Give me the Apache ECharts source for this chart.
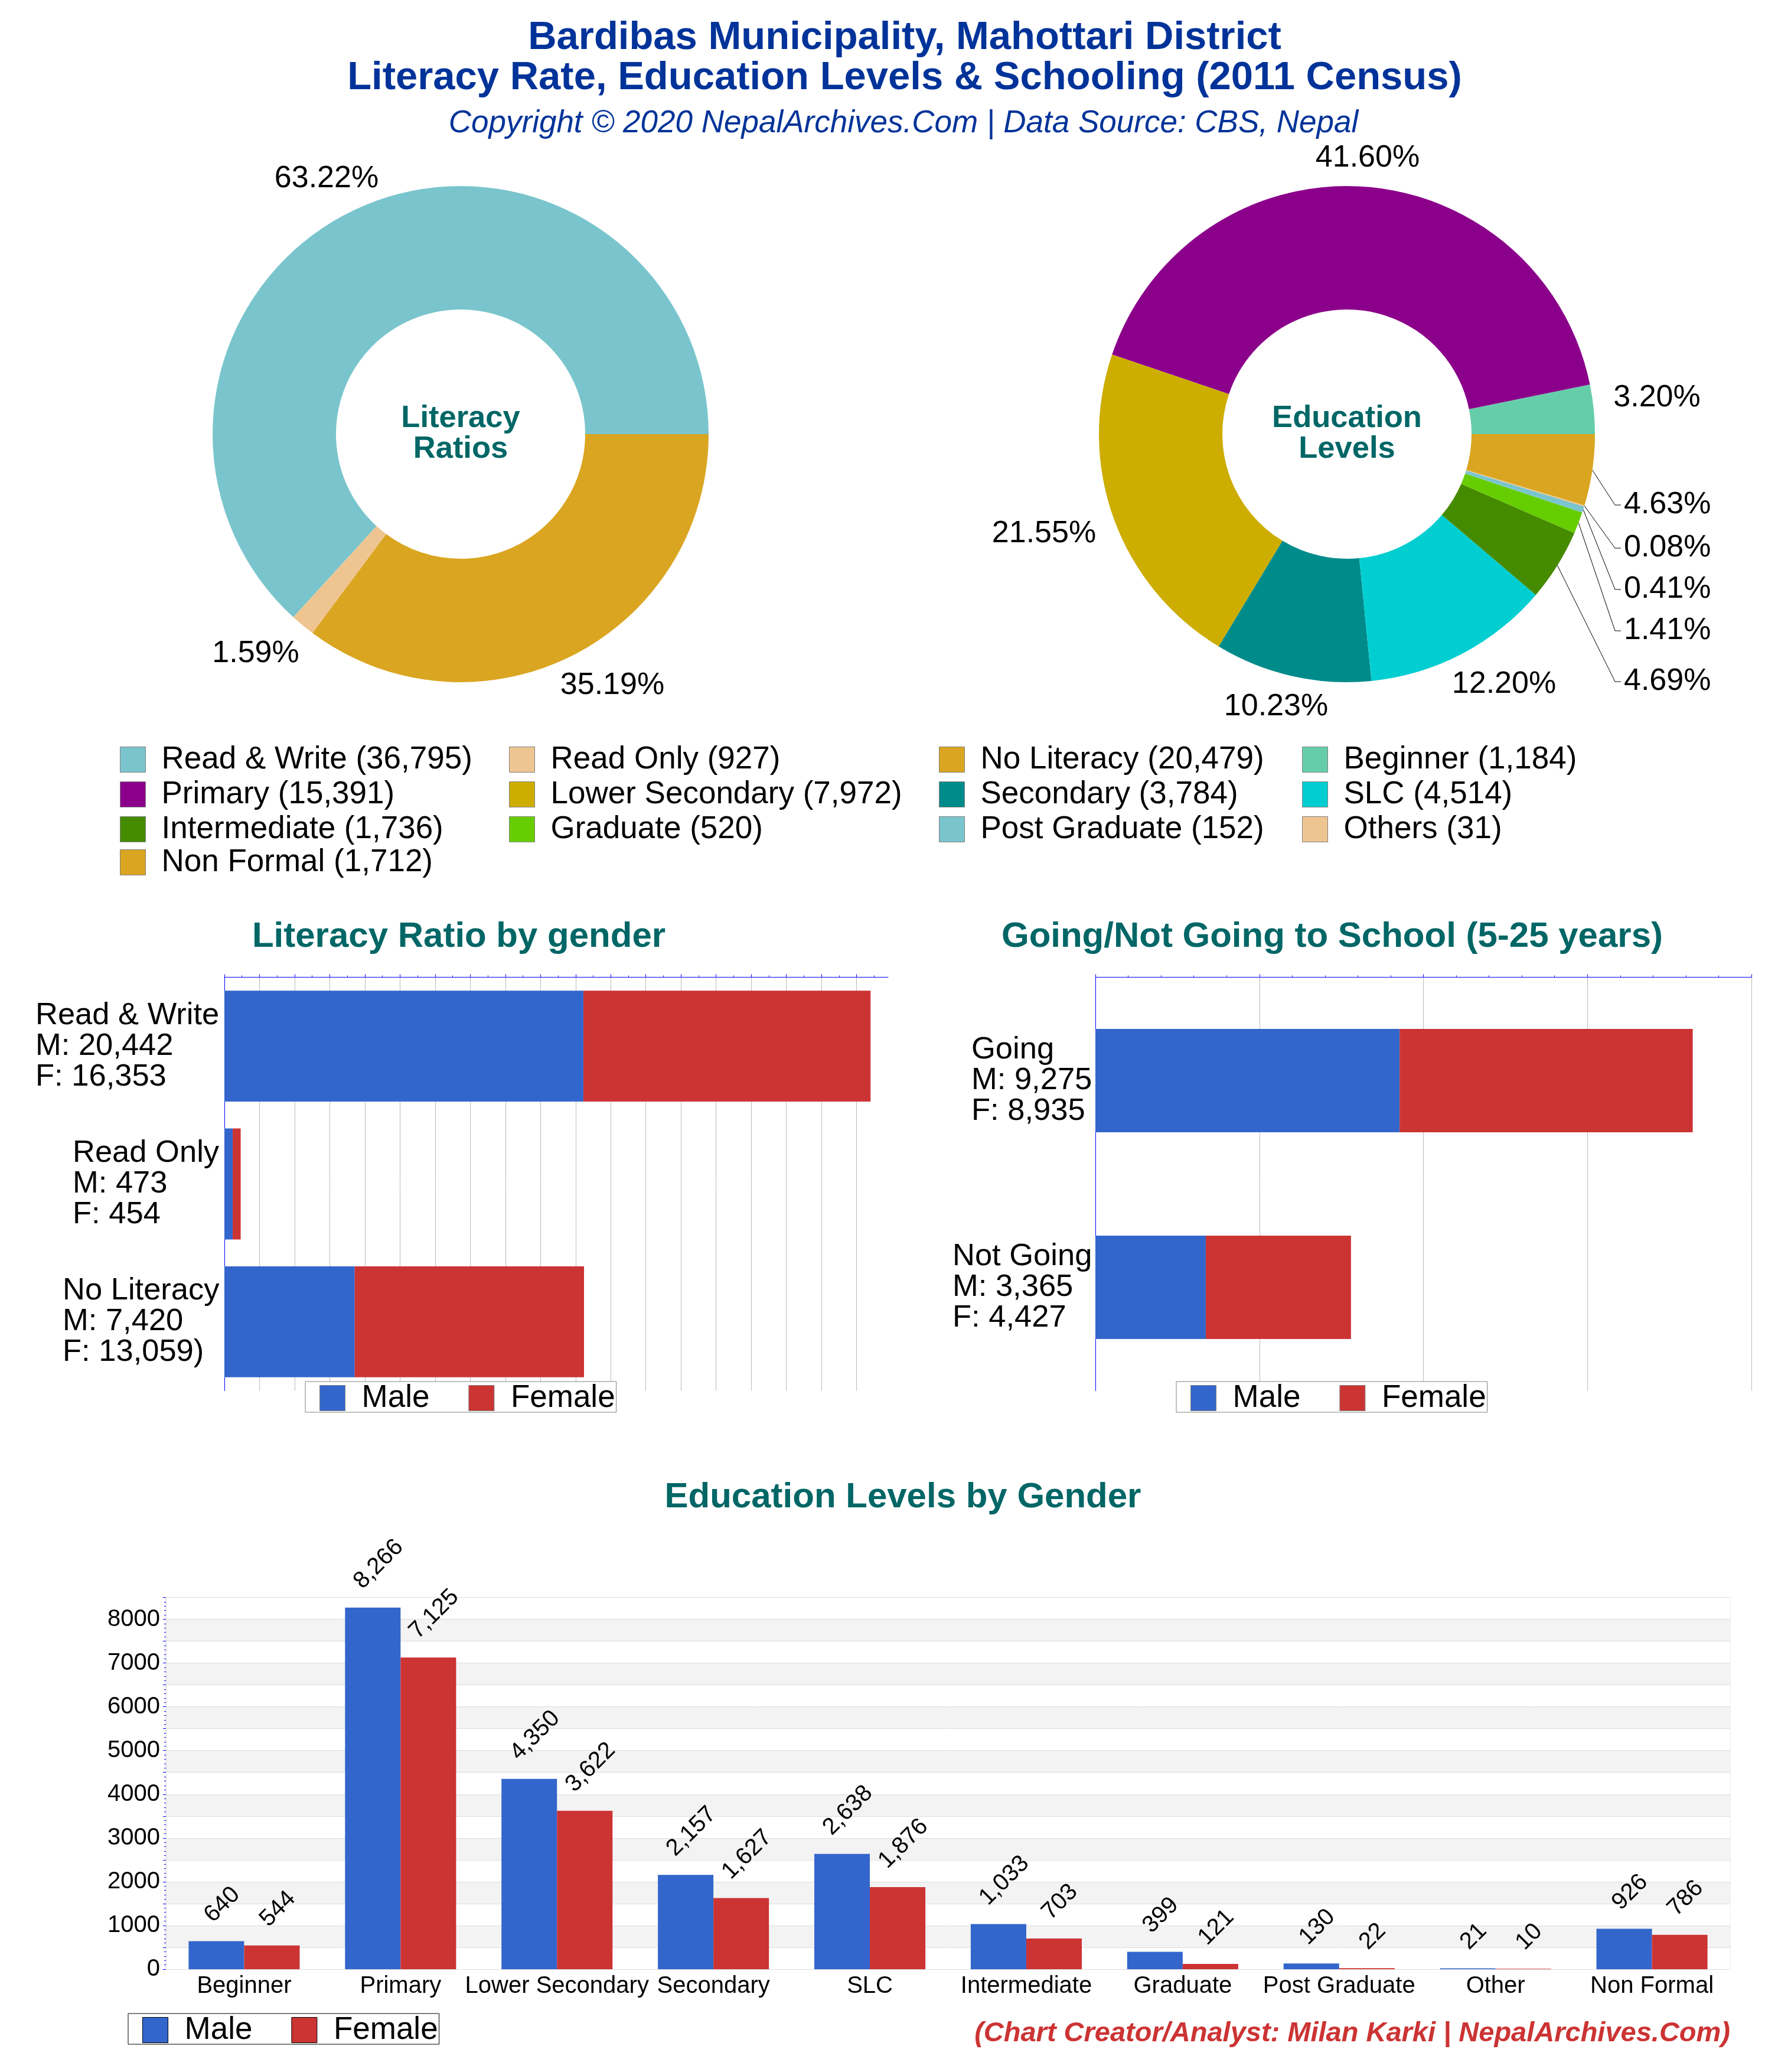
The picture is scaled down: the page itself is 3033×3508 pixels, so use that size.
<!DOCTYPE html>
<html>
<head>
<meta charset="utf-8">
<title>Bardibas Municipality Literacy</title>
<script src="https://cdn.jsdelivr.net/npm/echarts@6/dist/echarts.min.js"></script>
<style>
    html, body { margin: 0; padding: 0; background: #fff; }
    #main { width: 3033px; height: 3508px; }
</style>
</head>
<body>
<div id="main"></div>
<script>
// literacy donut
var literacyNames = ['Read & Write', 'Read Only', 'No Literacy'];
var literacyTotals = [36795, 927, 20479];

// education donut, counter clockwise from 3 o'clock
var educationNames = ['Beginner', 'Primary', 'Lower Secondary', 'Secondary', 'SLC', 'Intermediate', 'Graduate', 'Post Graduate', 'Others', 'Non Formal'];
var educationTotals = [1184, 15391, 7972, 3784, 4514, 1736, 520, 152, 31, 1712];

// literacy by gender
var literacyMale = [20442, 473, 7420];
var literacyFemale = [16353, 454, 13059];
var literacyTickLabels = ['Read & Write\nM: 20,442\nF: 16,353', 'Read Only\nM: 473\nF: 454', 'No Literacy\nM: 7,420\nF: 13,059)'];
var literacyTicks = [0, 2000, 4000, 6000, 8000, 10000, 12000, 14000, 16000, 18000, 20000, 22000, 24000, 26000, 28000, 30000, 32000, 34000, 36000];

// school attendance
var schoolNames = ['Going', 'Not Going'];
var schoolMale = [9275, 3365];
var schoolFemale = [8935, 4427];
var schoolTickLabels = ['Going\nM: 9,275\nF: 8,935', 'Not Going\nM: 3,365\nF: 4,427'];

// education by gender
var levelNames = ['Beginner', 'Primary', 'Lower Secondary', 'Secondary', 'SLC', 'Intermediate', 'Graduate', 'Post Graduate', 'Other', 'Non Formal'];
var levelMale = [640, 8266, 4350, 2157, 2638, 1033, 399, 130, 21, 926];
var levelFemale = [544, 7125, 3622, 1627, 1876, 703, 121, 22, 10, 786];

var FONT = '"Liberation Sans", Arial, sans-serif';
var BLUE = '#3366CC';
var RED = '#CC3333';
var TEAL = '#006666';
var NAVY = '#003399';

var literacyColors = ['#7AC5CD', '#EEC591', '#DAA520'];
var educationColors = ['#66CDAA', '#8B008B', '#CDAD00', '#008B8B', '#00CED1', '#458B00', '#66CD00', '#7AC5CD', '#EEC591', '#DAA520'];

var ctx = document.createElement('canvas').getContext('2d');
function textWidth(text, size) {
    ctx.font = size + 'px ' + FONT;
    return ctx.measureText(text).width;
}
function fmt(v) {
    return v.toLocaleString('en-US');
}
function legendName(name, v) {
    return name + ' (' + fmt(v) + ')';
}

function titleAt(text, x, y, size, color, extra) {
    return {
        text: text,
        left: x,
        top: y,
        padding: 0,
        textAlign: (extra && extra.align) || 'center',
        textVerticalAlign: 'middle',
        textStyle: {
            fontFamily: FONT,
            fontSize: size,
            fontWeight: (extra && extra.weight) || 'bold',
            fontStyle: (extra && extra.style) || 'normal',
            color: color,
            lineHeight: 52
        }
    };
}

function pieLegend(x, y, names) {
    return {
        left: x,
        top: y,
        padding: 0,
        orient: 'vertical',
        align: 'left',
        itemWidth: 43,
        itemHeight: 43,
        itemGap: 6,
        selectedMode: false,
        icon: 'rect',
        itemStyle: { borderColor: '#808080', borderWidth: 1 },
        textStyle: { fontFamily: FONT, fontSize: 53, color: '#000', padding: [0, 0, 0, 22] },
        data: names
    };
}

function barLegend(x, y, borderColor) {
    return {
        left: x,
        top: y,
        padding: [1.5, 2, -2.5, 24],
        itemWidth: 43,
        itemHeight: 43,
        itemGap: 66,
        selectedMode: false,
        icon: 'rect',
        backgroundColor: '#fff',
        borderColor: borderColor,
        borderWidth: 1,
        itemStyle: { borderColor: borderColor, borderWidth: 1 },
        textStyle: { fontFamily: FONT, fontSize: 53, color: '#000', padding: [0, 0, 0, 23] },
        data: ['Male', 'Female']
    };
}

// multi line tick labels: block sits against the axis, lines inside it start on the left
function tickLabelStyle(tickLabels) {
    var rich = {};
    tickLabels.forEach(function (label, i) {
        var w = Math.max.apply(null, label.split('\n').map(function (l) { return textWidth(l, 52.5); }));
        rich['r' + i] = { width: Math.ceil(w), align: 'left', fontFamily: FONT, fontSize: 52.5, lineHeight: 52, color: '#000' };
    });
    return rich;
}
function tickFormatter(names, tickLabels) {
    return function (value) {
        var i = names.indexOf(value);
        return tickLabels[i].split('\n').map(function (l) { return '{r' + i + '|' + l + '}'; }).join('\n');
    };
}

function stackedXAxis(grid, max, interval, minorSplit, extra) {
    return Object.assign({
        type: 'value',
        gridIndex: grid,
        position: 'top',
        min: 0,
        max: max,
        interval: interval,
        axisLine: { show: true, lineStyle: { color: '#0000FF', width: 1 } },
        axisTick: { show: true, length: 5, lineStyle: { color: '#0000FF', width: 1 } },
        minorTick: { show: true, splitNumber: minorSplit, length: 3, lineStyle: { color: '#0000FF', width: 1 } },
        axisLabel: { show: false },
        splitLine: { show: true, lineStyle: { color: '#BBBBBB', width: 1 } }
    }, extra || {});
}

function stackedYAxis(grid, names, tickLabels, margin) {
    return {
        type: 'category',
        gridIndex: grid,
        inverse: true,
        data: names,
        axisLine: { show: true, lineStyle: { color: '#0000FF', width: 1 } },
        axisTick: { show: false },
        axisLabel: {
            margin: margin,
            formatter: tickFormatter(names, tickLabels),
            rich: tickLabelStyle(tickLabels)
        }
    };
}

function stackedSeries(name, color, axis, stack, values, width) {
    return {
        type: 'bar',
        name: name,
        stack: stack,
        xAxisIndex: axis,
        yAxisIndex: axis,
        barWidth: width,
        itemStyle: { color: color },
        data: values
    };
}

// the label offset works in the rotated frame of the text
function rotatedOffset(v) {
    var rise = 38 + 0.354 * textWidth(fmt(v), 40);
    return [(10 + rise) * Math.SQRT1_2, (10 - rise) * Math.SQRT1_2];
}

function levelSeries(name, color, values) {
    return {
        type: 'bar',
        name: name,
        xAxisIndex: 2,
        yAxisIndex: 2,
        barGap: 0,
        barCategoryGap: '29%',
        itemStyle: { color: color },
        label: {
            show: true,
            position: 'top',
            distance: 0,
            rotate: 45,
            align: 'center',
            verticalAlign: 'middle',
            fontFamily: FONT,
            fontSize: 40,
            color: '#000',
            formatter: function (p) { return fmt(p.value); }
        },
        data: values.map(function (v) {
            return { value: v, label: { offset: rotatedOffset(v) } };
        })
    };
}

function pieData(names, totals, colors, withLine) {
    return names.map(function (name, i) {
        return {
            name: legendName(name, totals[i]),
            value: totals[i],
            itemStyle: { color: colors[i] },
            labelLine: { show: withLine.indexOf(name) >= 0 }
        };
    });
}

function pieSeries(cx, data, layout) {
    return {
        type: 'pie',
        center: [cx, 735],
        radius: [211, 420],
        startAngle: 0,
        clockwise: false,
        percentPrecision: 2,
        avoidLabelOverlap: false,
        label: {
            position: 'outside',
            fontFamily: FONT,
            fontSize: 52,
            color: '#000',
            formatter: function (p) { return p.percent.toFixed(2) + '%'; }
        },
        labelLine: { lineStyle: { color: '#000', width: 1 } },
        labelLayout: layout,
        emphasis: { disabled: true },
        data: data
    };
}

// where the percent labels sit around each donut
var literacyLabelSpots = [[553, 303], [433, 1107], [1037, 1161]];
var educationLabelSpots = [[2806, 674], [2316, 268], [1768, 904], [2161, 1197], [2547, 1159], [2750, 1154], [2750, 1068], [2750, 998], [2750, 928], [2750, 855]];
var eduLeaderNames = ['Intermediate', 'Graduate', 'Post Graduate', 'Others', 'Non Formal'];

var myChart = echarts.init(document.getElementById('main'));

var option = {
    animation: false,
    backgroundColor: '#fff',
    title: [
        titleAt('Bardibas Municipality, Mahottari District', 1532, 65, 67, NAVY),
        titleAt('Literacy Rate, Education Levels & Schooling (2011 Census)', 1532, 133, 67, NAVY),
        titleAt('Copyright © 2020 NepalArchives.Com | Data Source: CBS, Nepal', 1530, 209, 53, NAVY, { weight: 'normal', style: 'italic' }),
        titleAt('Literacy\nRatios', 780, 735, 52.5, TEAL),
        titleAt('Education\nLevels', 2281, 735, 52.5, TEAL),
        titleAt('Literacy Ratio by gender', 777, 1586, 60, TEAL),
        titleAt('Going/Not Going to School (5-25 years)', 2256, 1586, 60, TEAL),
        titleAt('Education Levels by Gender', 1529, 2535, 60, TEAL),
        titleAt('(Chart Creator/Analyst: Milan Karki | NepalArchives.Com)', 2930, 3443, 47, RED, { align: 'right', style: 'italic' })
    ],
    legend: [
        pieLegend(203, 1259.5, [legendName('Read & Write', 36795), legendName('Primary', 15391), legendName('Intermediate', 1736)]),
        pieLegend(203, 1433.5, [legendName('Non Formal', 1712)]),
        pieLegend(862, 1259.5, [legendName('Read Only', 927), legendName('Lower Secondary', 7972), legendName('Graduate', 520)]),
        pieLegend(1590, 1259.5, [legendName('No Literacy', 20479), legendName('Secondary', 3784), legendName('Post Graduate', 152)]),
        pieLegend(2205, 1259.5, [legendName('Beginner', 1184), legendName('SLC', 4514), legendName('Others', 31)]),
        barLegend(517, 2339, '#808080'),
        barLegend(1992, 2339, '#808080'),
        barLegend(217, 3409, '#000')
    ],
    grid: [
        { left: 380, top: 1654.5, width: 1124, height: 700 },
        { left: 1855, top: 1654.5, width: 1111, height: 700 },
        { left: 281, top: 2704.5, width: 2649, height: 629.5, show: true, borderColor: '#DDDDDD', borderWidth: 1 }
    ],
    xAxis: [
        stackedXAxis(0, 37795, 2000, 2, {
            axisTick: { show: true, length: 5, customValues: literacyTicks, lineStyle: { color: '#0000FF', width: 1 } }
        }),
        stackedXAxis(1, 20000, 5000, 5),
        {
            type: 'category',
            gridIndex: 2,
            data: levelNames,
            axisLine: { show: true, lineStyle: { color: '#DDDDDD', width: 1 } },
            axisTick: { show: false },
            axisLabel: { interval: 0, margin: 9, fontFamily: FONT, fontSize: 40, color: '#000' }
        }
    ],
    yAxis: [
        stackedYAxis(0, literacyNames, literacyTickLabels, 8),
        stackedYAxis(1, schoolNames, schoolTickLabels, 5),
        {
            type: 'value',
            gridIndex: 2,
            min: 0,
            max: 8500,
            interval: 500,
            axisLine: { show: true, lineStyle: { color: '#DDDDDD', width: 1 } },
            axisTick: { show: true, length: 5, lineStyle: { color: '#0000FF', width: 1 } },
            minorTick: { show: true, splitNumber: 5, length: 3, lineStyle: { color: '#0000FF', width: 1 } },
            axisLabel: {
                margin: 10,
                fontFamily: FONT,
                fontSize: 40,
                color: '#000',
                formatter: function (v) { return v % 1000 === 0 ? String(v) : ''; }
            },
            splitLine: { show: true, lineStyle: { color: '#DDDDDD', width: 1 } },
            splitArea: { show: true, areaStyle: { color: ['#FFFFFF', '#F3F3F3'] } }
        }
    ],
    series: [
        pieSeries(780, pieData(literacyNames, literacyTotals, literacyColors, []), function (p) {
            var spot = literacyLabelSpots[p.dataIndex];
            return { x: spot[0], y: spot[1], align: 'center', verticalAlign: 'middle' };
        }),
        pieSeries(2281, pieData(educationNames, educationTotals, educationColors, eduLeaderNames), function (p) {
            var spot = educationLabelSpots[p.dataIndex];
            if (eduLeaderNames.indexOf(educationNames[p.dataIndex]) < 0) {
                return { x: spot[0], y: spot[1], align: 'center', verticalAlign: 'middle' };
            }
            return {
                x: spot[0],
                y: spot[1],
                align: 'left',
                verticalAlign: 'middle',
                labelLinePoints: [p.labelLinePoints[0], [spot[0] - 15, spot[1]], [spot[0] - 5, spot[1]]]
            };
        }),
        stackedSeries('Male', BLUE, 0, 'literacy', literacyMale, '80.5%'),
        stackedSeries('Female', RED, 0, 'literacy', literacyFemale, '80.5%'),
        stackedSeries('Male', BLUE, 1, 'school', schoolMale, '50%'),
        stackedSeries('Female', RED, 1, 'school', schoolFemale, '50%'),
        levelSeries('Male', BLUE, levelMale),
        levelSeries('Female', RED, levelFemale)
    ]
};
myChart.setOption(option);
</script>
</body>
</html>
